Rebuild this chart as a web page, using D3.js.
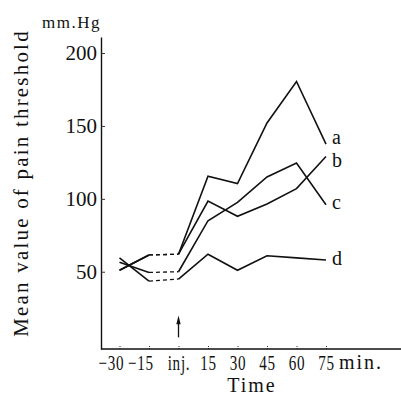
<html>
<head>
    <script src="https://d3js.org/d3.v7.min.js"></script>
    <style>
        body { margin: 0; background: #fff; }
        text { font-family: "Liberation Serif", "DejaVu Serif", serif; fill: #111; }
        .series { fill: none; stroke: #111; stroke-width: 1.6; }
        .dashed { stroke-dasharray: 4,3; stroke-width: 1.3; }
    </style>
</head>

<body>
    <svg width="401" height="396"></svg>

    <script>
        // time points (minutes relative to injection)
        const times = [-30, -15, 0, 15, 30, 45, 60, 75];
        const tickLabels = ["\u221230", "\u221215", "inj.", "15", "30", "45", "60", "75"];
        const yTicks = [50, 100, 150, 200];

        const seriesNames = ["a", "b", "c", "d"];
        const seriesA = [51, 61.5, 62, 115.5, 110.5, 152, 180.5, 137.5];
        const seriesB = [51, 61.5, 62, 98.5, 88, 96.5, 107, 129];
        const seriesC = [56.5, 49.5, 50, 85, 97.5, 115, 124.5, 96];
        const seriesD = [59.5, 43.5, 45, 62, 51, 61, 59.5, 58];

        const width = 401, height = 396, margin = { top: 37, right: 0, bottom: 47, left: 101 };

        const svg = d3.select("svg");

        const x = d3.scaleLinear()
                    .domain([-30, 75])
                    .range([119.5, 326]);

        const y = d3.scaleLinear()
                    .domain([-3, 211])
                    .range([height - margin.bottom, margin.top]);

        // y axis
        const yAxis = svg.append("g")
           .attr("transform", `translate(${margin.left},0)`)
           .call(d3.axisLeft(y)
                .tickValues(yTicks)
                .tickSizeInner(-4)
                .tickSizeOuter(0)
                .tickPadding(4));
        yAxis.select(".domain").attr("stroke", "#111").attr("stroke-width", 1.4);
        yAxis.selectAll(".tick line").attr("stroke", "#333");
        yAxis.selectAll("text").attr("font-size", 21);

        // x axis
        const xAxis = svg.append("g")
           .attr("transform", `translate(0,${y(-3)})`)
           .call(d3.axisBottom(x)
                .tickValues(times)
                .tickFormat((d, i) => tickLabels[i])
                .tickSizeInner(-4)
                .tickSizeOuter(0)
                .tickPadding(6));
        xAxis.select(".domain").remove();
        xAxis.append("line")
             .attr("x1", margin.left).attr("x2", width)
             .attr("stroke", "#111").attr("stroke-width", 1.4);
        xAxis.selectAll(".tick line").attr("stroke", "#333").attr("stroke-dasharray", "1,1");
        xAxis.selectAll(".tick text")
             .attr("font-size", 21)
             .attr("letter-spacing", 1)
             .attr("x", d => d < 0 ? -12 : 0)
             .attr("transform", "scale(0.72,1)");

        xAxis.append("text")
             .attr("x", x(75) + 35)
             .attr("y", 6)
             .attr("dy", "0.71em")
             .attr("text-anchor", "middle")
             .attr("font-size", 20)
             .attr("letter-spacing", 2)
             .attr("fill", "#111")
             .text("min.");

        // axis titles
        svg.append("text")
           .attr("transform", `translate(28,${183}) rotate(-90)`)
           .attr("text-anchor", "middle")
           .attr("font-size", 21)
           .attr("letter-spacing", 2.2)
           .text("Mean value of pain threshold");

        svg.append("text")
           .attr("x", 42)
           .attr("y", 28)
           .attr("font-size", 17)
           .attr("letter-spacing", 1.5)
           .text("mm.Hg");

        svg.append("text")
           .attr("x", 252)
           .attr("y", 392)
           .attr("text-anchor", "middle")
           .attr("font-size", 20)
           .attr("letter-spacing", 2)
           .text("Time");

        // series lines: solid before -15, dashed -15 -> inj., solid after
        const allSeries = [seriesA, seriesB, seriesC, seriesD];
        const line = d3.line()
                       .x(d => x(d.t))
                       .y(d => y(d.v));

        const labelNudge = [0, 10, 4, 5];

        allSeries.forEach((vals, si) => {
            const pts = times.map((t, i) => ({ t: t, v: vals[i] }));
            svg.append("path").attr("class", "series").attr("d", line(pts.slice(0, 2)));
            svg.append("path").attr("class", "series dashed").attr("d", line(pts.slice(1, 3)));
            svg.append("path").attr("class", "series").attr("d", line(pts.slice(2)));

            const last = pts[pts.length - 1];
            svg.append("text")
               .attr("x", x(last.t) + 6)
               .attr("y", y(last.v) + labelNudge[si])
               .attr("font-size", 20)
               .text(seriesNames[si]);
        });

        // injection arrow
        const ax = x(0);
        svg.append("line")
           .attr("x1", ax).attr("x2", ax)
           .attr("y1", y(5)).attr("y2", y(16))
           .attr("stroke", "#111").attr("stroke-width", 1.3);
        svg.append("path")
           .attr("d", `M${ax},${y(20)} L${ax - 2.2},${y(14)} L${ax + 2.2},${y(14)} Z`)
           .attr("fill", "#111");
    </script>

</body>
</html>
